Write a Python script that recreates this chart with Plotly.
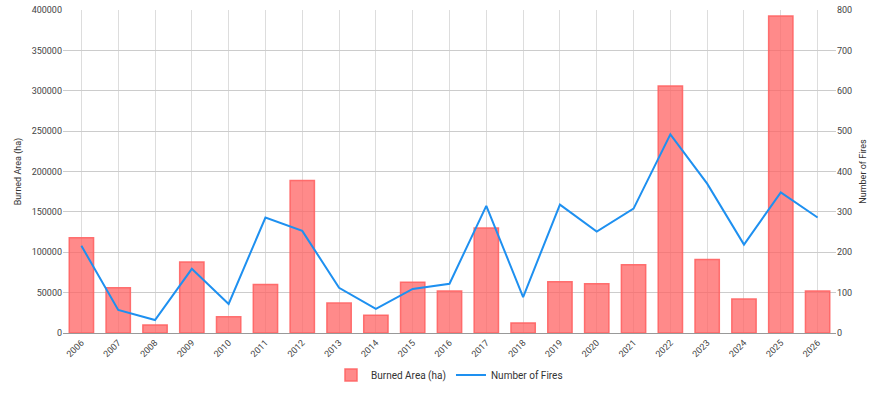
import plotly.graph_objects as go

years = [str(y) for y in range(2006, 2027)]
burned_area = [118000, 56000, 10000, 88000, 20000, 60000, 189000, 37000, 22000, 63000,
               52000, 130000, 12500, 63500, 61000, 84500, 306000, 91000, 42000, 392500, 52000]
fires = [216, 57, 32, 159, 72, 286, 253, 112, 60, 109, 122, 315, 89, 318, 251,
         308, 492, 370, 219, 348, 286]

fig = go.Figure()
fig.add_trace(go.Bar(
    x=years, y=burned_area, name="Burned Area (ha)",
    marker=dict(color="rgba(255,99,99,0.75)", line=dict(color="rgba(255,99,99,0.9)", width=1.5)),
    width=0.66, yaxis="y"))
fig.add_trace(go.Scatter(
    x=years, y=fires, name="Number of Fires", mode="lines",
    line=dict(color="#1E90F0", width=2), yaxis="y2"))

fig.update_layout(
    width=886, height=400,
    margin=dict(l=63, r=50, t=10, b=67),
    paper_bgcolor="white", plot_bgcolor="white",
    font=dict(family="Roboto, sans-serif", size=9, color="#444"),
    showlegend=True,
    legend=dict(orientation="h", x=0.5, xanchor="center", y=-0.085, yanchor="top",
                font=dict(size=10, color="#333")),
    xaxis=dict(showgrid=True, gridcolor="#ddd", tickangle=-45, ticks="", automargin=False,
               showline=True, linecolor="#999", linewidth=1),
    yaxis=dict(title=dict(text="Burned Area (ha)", font=dict(size=9, color="#333"), standoff=8),
               range=[0, 400000], dtick=50000, showgrid=True, gridcolor="#ccc", automargin=False,
               tickformat="d", zeroline=False, ticks=""),
    yaxis2=dict(title=dict(text="Number of Fires", font=dict(size=9, color="#333"), standoff=8),
                range=[0, 800], dtick=100, overlaying="y", side="right", automargin=False,
                showgrid=False, zeroline=False, ticks=""),
    bargap=0.34,
)

fig.write_html("out.html")
